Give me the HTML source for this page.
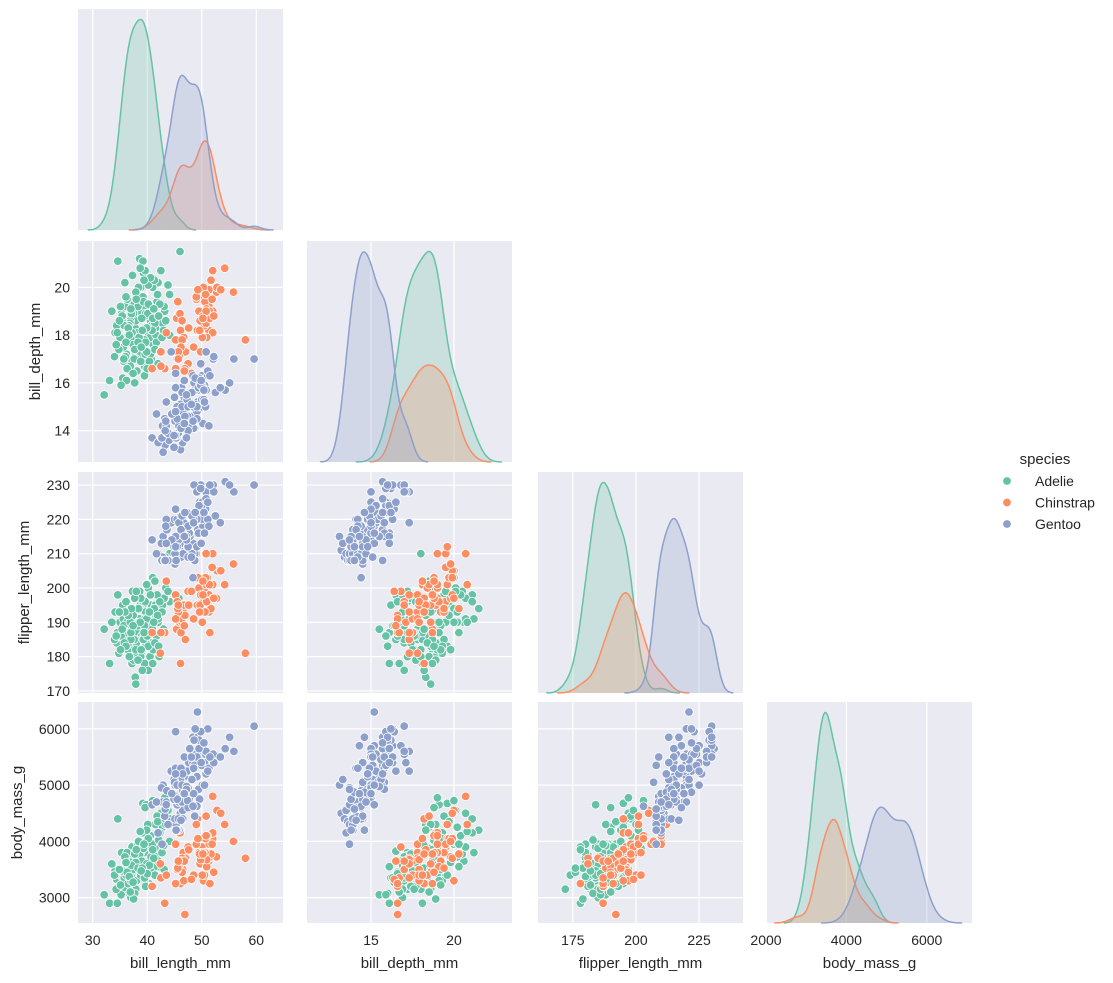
<!DOCTYPE html>
<html><head><meta charset="utf-8"><title>Penguins pairplot</title>
<style>
body{margin:0;background:#fff;}
svg{display:block;font-family:"Liberation Sans",Arial,sans-serif;}
</style></head>
<body>
<svg id="chart" width="1113" height="983" viewBox="0 0 1113 983" xmlns="http://www.w3.org/2000/svg"></svg>
<script>
const species = ["Adelie","Chinstrap","Gentoo"];
const varNames = ["bill_length_mm","bill_depth_mm","flipper_length_mm","body_mass_g"];
// rows: [bill_length, bill_depth, flipper_length, body_mass]
const adelie = [[39.1,18.7,181,3750],[39.5,17.4,186,3800],[40.3,18.0,195,3250],[36.7,19.3,193,3450],[39.3,20.6,190,3650],[38.9,17.8,181,3625],[39.2,19.6,195,4675],[34.1,18.1,193,3475],[42.0,20.2,190,4250],[37.8,17.1,186,3300],[37.8,17.3,180,3700],[41.1,17.6,182,3200],[38.6,21.2,191,3800],[34.6,21.1,198,4400],[36.6,17.8,185,3700],[38.7,19.0,195,3450],[42.5,20.7,197,4500],[34.4,18.4,184,3325],[46.0,21.5,194,4200],[37.8,18.3,174,3400],[37.7,18.7,180,3600],[35.9,19.2,189,3800],[38.2,18.1,185,3950],[38.8,17.2,180,3800],[35.3,18.9,187,3800],[40.6,18.6,183,3550],[40.5,17.9,187,3200],[37.9,18.6,172,3150],[40.5,18.9,180,3950],[39.5,16.7,178,3250],[37.2,18.1,178,3900],[39.5,17.8,188,3300],[40.9,18.9,184,3900],[36.4,17.0,195,3325],[39.2,21.1,196,4150],[38.8,20.0,190,3950],[42.2,18.5,180,3550],[37.6,19.3,181,3300],[39.8,19.1,184,4650],[36.5,18.0,182,3150],[40.8,18.4,195,3900],[36.0,18.5,186,3100],[44.1,19.7,196,4400],[37.0,16.9,185,3000],[39.6,18.8,190,4600],[41.1,19.0,182,3425],[36.2,17.2,187,3150],[32.1,15.5,188,3050],[35.0,17.9,190,3450],[43.2,19.0,197,4775],[45.8,18.9,197,4150],[33.5,19.0,190,3600],[35.7,16.9,185,3150],[41.6,18.0,192,3950],[38.1,16.5,198,3825],[34.0,17.1,185,3400],[41.5,18.3,195,4300],[36.9,18.6,189,3500],[35.6,17.5,191,3175],[42.8,18.5,195,4250],[40.2,17.0,176,3450],[44.1,18.0,210,4000],[36.0,17.1,187,3700],[41.0,20.0,203,4725],[33.1,16.1,178,2900],[37.3,20.5,199,3775],[35.5,16.2,195,3350],[41.4,18.5,202,3875],[39.7,18.9,184,3550],[38.1,17.6,187,3425],[37.7,16.0,183,3075],[40.2,20.1,200,3975],[34.5,18.1,187,2900],[39.0,17.5,186,3550],[36.2,16.1,187,3550],[43.1,19.2,197,3500],[38.6,17.2,199,3750],[39.6,17.2,196,3550],[37.3,17.8,191,3350],[38.5,17.9,190,3325],[36.8,18.5,193,3500],[40.1,18.9,188,4300],[35.2,15.9,186,3050],[39.0,18.7,185,3650],[37.5,18.9,179,2975],[38.0,17.0,184,3300],[40.7,17.0,190,3725],[36.3,19.5,190,3800],[39.7,17.7,193,3200],[41.3,20.3,194,3550],[37.6,17.0,185,3600],[36.6,18.4,184,3475],[38.3,19.2,189,3950],[40.6,17.2,187,3475],[35.7,17.0,189,3350],[39.6,20.7,191,3900],[41.8,19.4,198,4450],[37.0,16.5,185,3400],
[35.8,18.4,184,3350],[42.3,19.3,196,4150],[37.4,17.6,192,3500],[40.9,18.2,188,3950],[36.1,19.6,183,3400],[39.9,17.3,191,3600],[43.4,18.6,200,4300],[34.8,17.4,181,3200],[38.4,20.0,194,4000],[41.7,17.7,186,3725],[36.9,16.7,190,3100],[39.3,19.4,185,3875],[40.6,20.4,198,4100],[35.4,18.8,188,3475],[42.7,17.9,193,3800],[37.9,19.8,182,3625],[38.8,16.9,197,3400],[41.0,18.7,178,3850],[36.5,18.3,192,3250],[39.5,16.3,189,3350],[43.8,20.1,199,4550],[34.3,17.6,186,3150],[40.2,19.3,183,4050],[37.1,18.9,194,3575],[38.3,17.7,179,3525],[42.0,16.8,191,3650],[35.9,20.2,193,3725],[39.9,18.3,201,4200],[37.0,19.1,187,3300],[41.4,17.4,184,3400],[36.3,16.6,196,3450],[38.7,20.8,190,4175],[40.4,16.9,193,3575],[35.1,19.2,182,3225],[43.0,18.2,188,3925],[37.7,17.4,197,3775],[39.1,18.2,176,3525],[41.9,19.7,192,4350],[36.7,18.0,180,3375],[38.0,19.5,199,3850],[40.0,16.6,186,3425],[34.9,18.6,193,3500],[42.1,18.8,183,4025],[37.4,16.4,189,3275],[39.4,20.3,187,3950],[36.1,17.7,196,3625],[41.2,19.1,190,3700],[38.9,17.5,182,3475]];
const chinstrap = [[46.5,17.9,192,3500],[50.0,19.5,196,3900],[51.3,19.2,193,3650],[45.4,18.7,188,3525],[52.7,19.8,197,3725],[45.2,17.8,198,3950],[46.1,18.2,178,3250],[51.3,18.2,197,3750],[46.0,18.9,195,4150],[51.3,19.9,198,3700],[46.6,17.8,193,3800],[51.7,20.3,194,3775],[47.0,17.3,185,3700],[52.0,18.1,201,4050],[45.9,17.1,190,3575],[50.5,19.6,201,4050],[50.3,20.0,197,3300],[58.0,17.8,181,3700],[46.4,18.6,190,3450],[49.2,18.2,195,4400],[42.4,17.3,181,3600],[48.5,17.5,191,3400],[43.2,16.6,187,2900],[50.6,19.4,193,3800],[46.7,17.9,195,3300],[52.0,19.0,197,4150],[50.5,18.4,200,3400],[49.5,19.0,200,3800],[46.4,17.8,191,3700],[52.8,20.0,205,4550],[40.9,16.6,187,3200],[54.2,20.8,201,4300],[42.5,16.7,187,3350],[51.0,18.8,203,4100],[49.7,18.6,195,3600],[47.5,16.8,199,3900],[47.6,18.3,195,3850],[52.0,20.7,210,4800],[46.9,16.6,192,2700],[53.5,19.9,205,4500],[49.0,19.5,210,3950],[46.2,17.5,187,3650],[50.9,19.1,196,3550],[45.5,17.0,196,3500],[50.9,17.9,196,3675],[50.8,18.5,201,4450],[50.1,17.9,190,3400],[49.0,19.6,212,4300],[51.5,18.7,187,3250],[49.8,17.3,198,3675],[48.1,16.4,199,3325],[51.4,19.0,201,3950],[45.7,17.3,193,3600],[50.7,19.7,203,4050],[42.5,17.3,187,3350],[52.2,18.8,197,3450],[45.2,16.6,191,3250],[49.3,19.9,203,4050],[50.2,18.8,202,3800],[45.6,19.4,194,3525],[51.9,19.5,206,3950],[46.8,16.5,189,3650],[45.7,17.0,195,3650],[55.8,19.8,207,4000],[43.5,18.1,202,3400],[49.6,18.2,193,3775],[50.8,19.0,210,4100],[50.2,18.7,198,3775]];
const gentoo = [[46.1,13.2,211,4500],[50.0,16.3,230,5700],[48.7,14.1,210,4450],[50.0,15.2,218,5700],[47.6,14.5,215,5400],[46.5,13.5,210,4550],[45.4,14.6,211,4800],[46.7,15.3,219,5200],[43.3,13.4,209,4400],[46.8,15.4,215,5150],[40.9,13.7,214,4650],[49.0,16.1,216,5550],[45.5,13.7,214,4650],[48.4,14.6,213,5850],[45.8,14.6,210,4200],[49.3,15.7,217,5850],[42.0,13.5,210,4150],[49.2,15.2,221,6300],[46.2,14.5,209,4800],[48.7,15.1,222,5350],[50.2,14.3,218,5700],[45.1,14.5,215,5000],[46.5,14.5,213,4400],[46.3,15.8,215,5050],[42.9,13.1,215,5000],[46.1,15.1,215,5100],[47.8,15.0,215,5650],[48.2,14.3,210,4600],[50.0,15.3,220,5550],[47.3,15.3,222,5250],[42.8,14.2,209,4700],[45.1,14.5,207,5050],[59.6,17.0,230,6050],[49.1,14.8,220,5150],[48.4,16.3,220,5400],[42.6,13.7,213,4950],[44.4,17.3,219,5250],[44.0,13.6,208,4350],[48.7,15.7,208,5350],[42.7,13.7,208,3950],[49.6,16.0,225,5700],[45.3,13.7,210,4300],[49.6,15.0,216,4750],[50.5,15.9,222,5550],[43.6,13.9,217,4900],[45.5,13.9,210,4200],[50.5,15.9,225,5400],[44.9,13.3,213,5100],[45.2,15.8,215,5300],[46.6,14.2,210,4850],[48.5,14.1,220,5300],[45.1,14.4,210,4400],[50.1,15.0,225,5000],[46.5,14.4,217,4900],[45.0,15.4,220,5050],[43.8,13.9,208,4300],[45.5,15.0,220,5000],[43.2,14.5,208,4450],[50.4,15.3,224,5550],[45.3,13.8,208,4200],[46.2,14.9,221,5300],[45.7,13.9,214,4400],[54.3,15.7,231,5650],[45.8,14.2,219,4700],[49.8,16.8,230,5700],[49.5,16.2,229,5800],[43.5,14.2,220,4700],[50.7,15.0,223,5550],[47.7,15.0,216,4750],[46.4,15.6,221,5000],[48.2,15.6,221,5100],[46.5,14.8,217,5200],[46.4,15.0,216,4700],[48.6,16.0,230,5800],[47.5,14.2,209,4600],[51.1,16.3,220,6000],[45.2,13.8,215,4750],[45.2,16.4,223,5950],[49.1,14.5,212,4625],[52.5,15.6,221,5450],[47.4,14.6,212,4725],[50.0,15.9,224,5350],[44.9,13.8,212,4750],[50.8,17.3,228,5600],[43.4,14.4,218,4600],[51.3,14.2,218,5300],[47.5,14.0,212,4875],[52.1,17.0,230,5550],[47.5,15.0,218,4950],[52.2,17.1,228,5400],[45.5,14.5,212,4750],[49.5,16.1,224,5650],[44.5,14.7,214,4850],[50.8,15.7,226,5200],[49.4,15.8,216,4925],[46.9,14.6,222,4875],[48.4,14.4,203,4625],[51.1,16.5,225,5250],[48.5,15.0,219,4850],[55.9,17.0,228,5600],[47.2,15.5,215,4975],[49.1,15.0,228,5500],[46.8,16.1,215,5500],[41.7,14.7,210,4700],[53.4,15.8,219,5500],[43.3,14.0,208,4575],[48.1,15.1,209,5500],[50.5,15.2,216,5000],[49.8,15.9,229,5950],[43.5,15.2,213,4650],[51.5,16.3,230,5500],[46.2,14.1,217,4375],[55.1,16.0,230,5850],[48.8,16.2,222,6000],[47.2,13.7,214,4925],[46.8,14.3,215,4850],[50.4,15.7,222,5750],[45.2,14.8,212,5200],[49.9,16.1,213,5400]];
const xTicks = [[30,40,50,60],[15,20],[175,200,225],[2000,4000,6000]];
const yTicks = [null,[14,16,18,20],[170,180,190,200,210,220,230],[3000,4000,5000,6000]];

const colors = ["#66c2a5","#fc8d62","#8da0cb"];
const groups = [adelie, chinstrap, gentoo];
const domains = [[27.3,64.9],[11.14,23.5],[161.2,242.4],[2025,7125]];
const yDomains = [null,[12.69,21.94],[169.4,233.8],[2549,6478]];
const colLeft = [78,307,538,767], panelW = 205;
const rowTop = [9,241,472,702], panelH = 221;
const NS = "http://www.w3.org/2000/svg";
const svg = document.getElementById('chart');
function mk(tag, attrs, parent){const e=document.createElementNS(NS,tag);for(const k in attrs)e.setAttribute(k,attrs[k]);(parent||svg).appendChild(e);return e;}
function xs(v,j){const d=domains[j];return colLeft[j]+(v-d[0])/(d[1]-d[0])*panelW;}
function ys(v,i){const d=yDomains[i];return rowTop[i]+panelH-(v-d[0])/(d[1]-d[0])*panelH;}

function kde(vals, grid, h){
  const n=vals.length;
  return grid.map(x=>{let s=0;for(const v of vals){const z=(x-v)/h;s+=Math.exp(-0.5*z*z);}return s/(n*h*Math.sqrt(2*Math.PI));});
}
const N = groups.reduce((a,g)=>a+g.length,0);

for(let i=0;i<4;i++){
  for(let j=0;j<=i;j++){
    const g = mk('g',{},svg);
    
    
    const x0=colLeft[j], y0=rowTop[i];
    const bg=mk('rect',{x:x0,y:y0,width:panelW,height:panelH,fill:'#eaeaf2'},g);
    
    
    xTicks[j].forEach(t=>{const x=xs(t,j);mk('line',{x1:x,x2:x,y1:y0,y2:y0+panelH,stroke:'#fff','stroke-width':1.2},g);});
    if(i!==j){
      yTicks[i].forEach(t=>{const y=ys(t,i);mk('line',{x1:x0,x2:x0+panelW,y1:y,y2:y,stroke:'#fff','stroke-width':1.2},g);});
      const clipId='c'+i+j;
      const cp=mk('clipPath',{id:clipId},g);mk('rect',{x:x0,y:y0,width:panelW,height:panelH},cp);
      const pts=mk('g',{'clip-path':'url(#'+clipId+')'},g);
      groups.forEach((grp,s)=>{grp.forEach(r=>{
        const c=mk('circle',{cx:xs(r[j],j).toFixed(1),cy:ys(r[i],i).toFixed(1),r:4.3,fill:colors[s],stroke:'#fff','stroke-width':0.8},pts);
        
        
      });});
    } else {
      const G=200;
      const curves=groups.map(grp=>{
        const vals=grp.map(r=>r[j]);
        const mn=Math.min(...vals), mx=Math.max(...vals);
        const n=vals.length, m=vals.reduce((a,b)=>a+b,0)/n;
        const sd=Math.sqrt(vals.reduce((a,b)=>a+(b-m)*(b-m),0)/(n-1));
        const h=sd*Math.pow(n,-0.2);
        const lo=mn-3*h, hi=mx+3*h;
        const grid=[];for(let k=0;k<G;k++)grid.push(lo+(hi-lo)*k/(G-1));
        const dens=kde(vals,grid,h).map(v=>v*n/N);
        return {grid,dens};
      });
      const ymax=Math.max(...curves.map(c=>Math.max(...c.dens)))*1.05;
      const base=y0+panelH;
      curves.forEach((c,s)=>{
        let pth='M'+xs(c.grid[0],j).toFixed(1)+','+base;
        c.grid.forEach((x,k)=>{pth+=' L'+xs(x,j).toFixed(1)+','+(base-c.dens[k]/ymax*panelH).toFixed(1);});
        const line=pth;
        pth+=' L'+xs(c.grid[G-1],j).toFixed(1)+','+base+' Z';
        const f=mk('path',{d:pth,fill:colors[s],'fill-opacity':0.25,stroke:'none'},g);
        
        
        const l=mk('path',{d:line,fill:'none',stroke:colors[s],'stroke-width':1.5},g);
        
        
      });
    }
    if(j===0 && i>0){
      yTicks[i].forEach(t=>{const tx=mk('text',{x:x0-8,y:ys(t,i)+5,'text-anchor':'end','font-size':14,fill:'#262626'},g);tx.textContent=t;
        });
      const yl=mk('text',{x:0,y:0,'text-anchor':'middle','font-size':15,fill:'#262626',transform:'translate('+(i===2?29:(i===1?40:22))+','+(y0+panelH/2)+') rotate(-90)'},g);
      yl.textContent=varNames[i];
      
    }
    if(i===3){
      xTicks[j].forEach(t=>{const tx=mk('text',{x:xs(t,j),y:y0+panelH+22,'text-anchor':'middle','font-size':14,fill:'#262626'},g);tx.textContent=t;
        });
      const xl=mk('text',{x:x0+panelW/2,y:y0+panelH+45,'text-anchor':'middle','font-size':15,fill:'#262626'},g);
      xl.textContent=varNames[j];
      
    }
  }
}
const lg=mk('g',{},svg);


const lt=mk('text',{x:1045,y:464,'text-anchor':'middle','font-size':15,fill:'#262626'},lg);
lt.textContent='species';

species.forEach((s,k)=>{
  const y=481+k*21.5;
  const e=mk('g',{},lg);
  
  
  mk('circle',{cx:1007,cy:y,r:4.3,fill:colors[k],stroke:'#fff','stroke-width':0.8},e);
  const t=mk('text',{x:1035,y:y+5,'font-size':14,fill:'#262626'},e);t.textContent=s;
});
</script>
</body></html>
